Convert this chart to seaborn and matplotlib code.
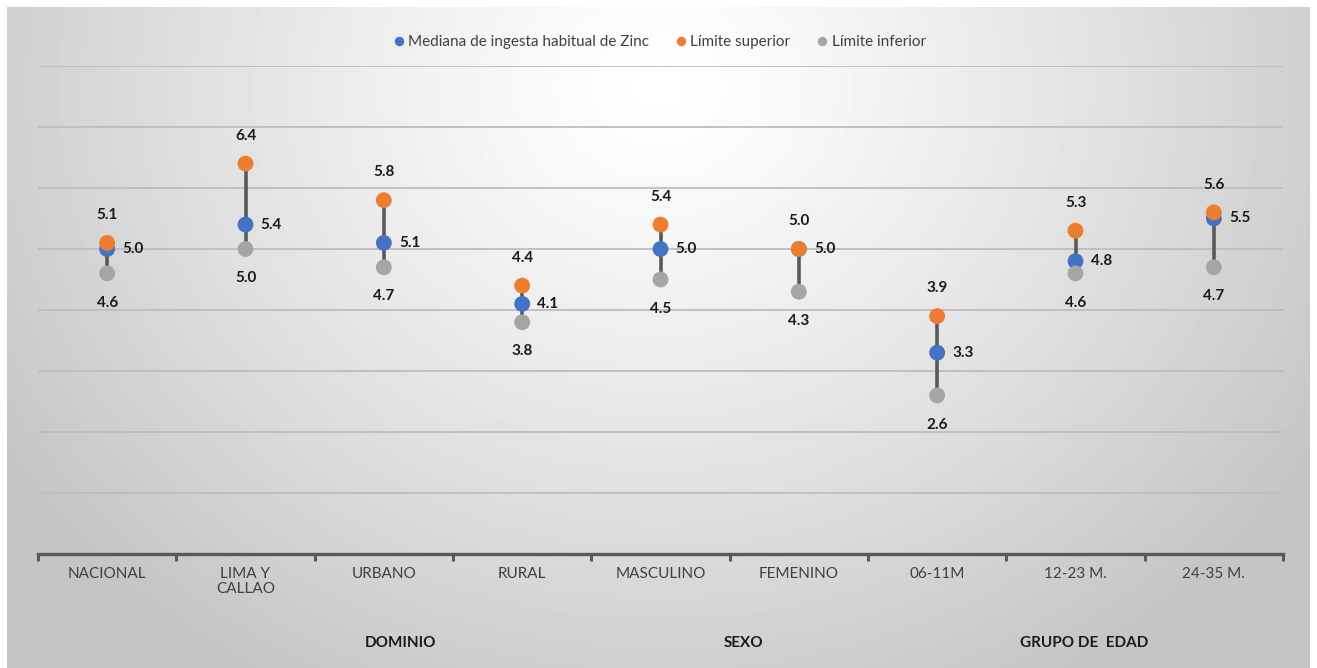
import numpy as np
import pandas as pd
import matplotlib
matplotlib.use("Agg")
import matplotlib.pyplot as plt
import matplotlib.transforms as mtransforms
import seaborn as sns

# ==========================
# Data
# ==========================
categorias = ['NACIONAL', 'LIMA Y\nCALLAO', 'URBANO', 'RURAL', 'MASCULINO',
              'FEMENINO', '06-11M', '12-23 M.', '24-35 M.']
mediana = [5.0, 5.4, 5.1, 4.1, 5.0, 5.0, 3.3, 4.8, 5.5]
superior = [5.1, 6.4, 5.8, 4.4, 5.4, 5.0, 3.9, 5.3, 5.6]
inferior = [4.6, 5.0, 4.7, 3.8, 4.5, 4.3, 2.6, 4.6, 4.7]
series = ['Mediana de ingesta habitual de Zinc', 'Límite superior', 'Límite inferior']
grupos = ['DOMINIO', 'SEXO', 'GRUPO DE  EDAD']
grupos_x = [2.12, 4.6, 7.06]

colores = ['#4472C4', '#ED7D31', '#A5A5A5']

df = pd.DataFrame({
    'cat': categorias * 3,
    'valor': mediana + superior + inferior,
    'serie': [series[0]] * 9 + [series[1]] * 9 + [series[2]] * 9,
})

sns.set_style('white')
plt.rcParams['font.family'] = ['Lato', 'DejaVu Sans']

fig = plt.figure(figsize=(13.17, 6.68), dpi=100)

# background radial gradient (chart area)
bg = fig.add_axes([7 / 1317, 0, 1303 / 1317, 661 / 668], zorder=-10)
gx, gy = np.meshgrid(np.linspace(0, 1, 400), np.linspace(1, 0, 200))
d = np.sqrt(((gx - 0.5) / 0.6) ** 2 + ((gy - 0.88) / 1.05) ** 2)
shade = 1.0 - 0.23 * np.clip(d, 0, 1) ** 1.2
bg.imshow(shade, cmap='gray', vmin=0, vmax=1, aspect='auto', extent=[0, 1, 0, 1])
bg.axis('off')

ax = fig.add_axes([38 / 1317, 1 - 554 / 668, 1245 / 1317, (554 - 66) / 668])
ax.set_facecolor('none')

x = np.arange(len(categorias))
ax.vlines(x, inferior, superior, color='#595959', linewidth=2.6, zorder=2)

sns.scatterplot(data=df, x='cat', y='valor', hue='serie', palette=colores,
                s=130, edgecolor='none', ax=ax, zorder=3, legend=True)

# data labels
lab = dict(fontsize=11, fontweight='bold', color='#1a1a1a', textcoords='offset points')
for i in range(len(categorias)):
    ax.annotate(f'{mediana[i]:.1f}', (i, mediana[i]), xytext=(11, 0), ha='left', va='center', **lab)
    ax.annotate(f'{superior[i]:.1f}', (i, superior[i]), xytext=(0, 20), ha='center', va='center', **lab)
    ax.annotate(f'{inferior[i]:.1f}', (i, inferior[i]), xytext=(0, -21), ha='center', va='center', **lab)

ax.set_xlim(-0.5, len(categorias) - 0.5)
ax.set_ylim(0, 8)
ax.set_yticks(range(0, 9))
ax.yaxis.grid(True, color='#bdbdbd', linewidth=1.3)
ax.set_axisbelow(True)
ax.tick_params(axis='y', left=False, labelleft=False)
for s in ['top', 'right', 'left']:
    ax.spines[s].set_visible(False)
ax.spines['bottom'].set_color('#595959')
ax.spines['bottom'].set_linewidth(2.4)

ax.set_xticks(x)
ax.set_xticklabels(categorias, fontsize=11, color='#404040', linespacing=1.1, va='top')
ax.tick_params(axis='x', which='major', bottom=True, length=0, pad=9)
ax.set_xticks(np.arange(-0.5, len(categorias)), minor=True)
ax.tick_params(axis='x', which='minor', bottom=True, length=5, width=2.2,
               color='#595959', direction='out')
ax.set_xlabel('')
ax.set_ylabel('')

trans = mtransforms.blended_transform_factory(ax.transData, fig.transFigure)
for g, gxv in zip(grupos, grupos_x):
    ax.text(gxv, 1 - 643 / 668, g, transform=trans, ha='center', va='center',
            fontsize=11, fontweight='bold', color='#1a1a1a')

handles, labels = ax.get_legend_handles_labels()
leg = ax.legend(handles, labels, loc='center', bbox_to_anchor=(0.5, 1 - 42 / 668),
                bbox_transform=fig.transFigure, ncol=3, frameon=False, fontsize=11,
                markerscale=0.6, handletextpad=0.1, columnspacing=1.6, handlelength=1)
for t in leg.get_texts():
    t.set_color('#404040')

fig.savefig('out.png', dpi=100)
